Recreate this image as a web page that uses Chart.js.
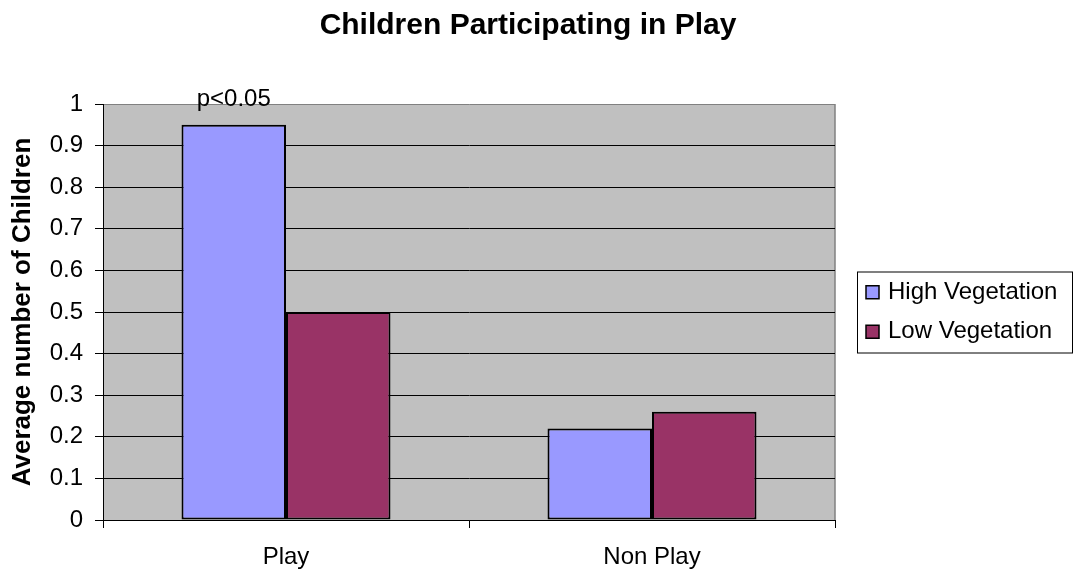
<!DOCTYPE html>
<html>
<head>
<meta charset="utf-8">
<script src="https://cdn.jsdelivr.net/npm/chart.js@4/dist/chart.umd.min.js"></script>
<style>
  html, body { margin: 0; padding: 0; background: #fff; }
  canvas { display: block; }
</style>
</head>
<body>
<canvas id="myChart" width="1074" height="572"></canvas>
<script>
var categories = ['Play', 'Non Play'];
var seriesNames = ['High Vegetation', 'Low Vegetation'];
var highVegetation = [0.95, 0.22];
var lowVegetation = [0.5, 0.26];
var highNotes = ['p<0.05', ''];
var yMin = 0;
var yMax = 1;
var yStep = 0.1;

var FONT = '"Liberation Sans", Arial, Helvetica, sans-serif';
Chart.defaults.font.family = FONT;
Chart.defaults.color = '#000';

// grey plot area, grey frame line on the right
var plotBackground = {
  id: 'plotBackground',
  beforeDraw: function(chart) {
    var a = chart.chartArea, ctx = chart.ctx;
    ctx.save();
    ctx.fillStyle = '#c0c0c0';
    ctx.fillRect(a.left, a.top, a.right - a.left, a.bottom - a.top);
    ctx.strokeStyle = '#808080';
    ctx.lineWidth = 1.5;
    ctx.beginPath();
    ctx.moveTo(a.right, a.top);
    ctx.lineTo(a.right, a.bottom);
    ctx.stroke();
    ctx.restore();
  }
};

// significance note above the bars
var barNotes = {
  id: 'barNotes',
  afterDraw: function(chart) {
    var ctx = chart.ctx;
    var meta = chart.getDatasetMeta(0);
    ctx.save();
    ctx.font = '24px ' + FONT;
    ctx.fillStyle = '#000';
    ctx.textAlign = 'center';
    ctx.textBaseline = 'alphabetic';
    for (var i = 0; i < highNotes.length; i++) {
      if (!highNotes[i]) continue;
      var bar = meta.data[i];
      ctx.fillText(highNotes[i], bar.x, bar.y - 19);
    }
    ctx.restore();
  }
};

// framed legend on the right, kept as a layout box
function drawLegend(chart, box) {
  var ctx = chart.ctx;
  var sets = chart.data.datasets;
  var cy = (box.top + box.bottom) / 2;
  var fx = box.left + 22, fw = 215, fh = 81;
  var fy = cy - fh / 2;
  ctx.save();
  ctx.fillStyle = '#fff';
  ctx.fillRect(fx, fy, fw, fh);
  ctx.strokeStyle = '#000';
  ctx.lineWidth = 1;
  ctx.strokeRect(fx + 0.5, fy + 0.5, fw, fh);
  ctx.font = '24px ' + FONT;
  ctx.textBaseline = 'middle';
  ctx.textAlign = 'left';
  for (var i = 0; i < sets.length; i++) {
    var y = cy + (i - (sets.length - 1) / 2) * 39.5;
    ctx.fillStyle = sets[i].backgroundColor;
    ctx.fillRect(fx + 9, y - 6.5, 13, 13);
    ctx.lineWidth = 1.5;
    ctx.strokeStyle = '#000';
    ctx.strokeRect(fx + 9, y - 6.5, 13, 13);
    ctx.fillStyle = '#000';
    ctx.fillText(sets[i].label, fx + 31, y);
  }
  ctx.restore();
}

var boxLegend = {
  id: 'boxLegend',
  beforeInit: function(chart) {
    var box = {
      position: 'right',
      weight: 10,
      fullSize: false,
      options: {},
      left: 0, top: 0, right: 0, bottom: 0, width: 0, height: 0,
      isHorizontal: function() { return false; },
      update: function(maxWidth, maxHeight) {
        this.width = 221;
        this.height = maxHeight;
      },
      draw: function() { drawLegend(chart, this); }
    };
    Chart.layouts.addBox(chart, box);
  }
};

new Chart(document.getElementById('myChart').getContext('2d'), {
  type: 'bar',
  data: {
    labels: categories,
    datasets: [
      {
        label: seriesNames[0],
        data: highVegetation,
        backgroundColor: '#9999ff',
        borderColor: '#000',
        borderWidth: 2,
        borderSkipped: false,
        categoryPercentage: 0.571,
        barPercentage: 1
      },
      {
        label: seriesNames[1],
        data: lowVegetation,
        backgroundColor: '#993366',
        borderColor: '#000',
        borderWidth: 2,
        borderSkipped: false,
        categoryPercentage: 0.571,
        barPercentage: 1
      }
    ]
  },
  options: {
    responsive: false,
    animation: false,
    devicePixelRatio: 1,
    layout: { padding: { top: 0, left: 0, bottom: 0, right: 18 } },
    plugins: {
      legend: { display: false },
      tooltip: { enabled: false },
      title: {
        display: true,
        text: 'Children Participating in Play',
        color: '#000',
        font: { size: 30, weight: 'bold' },
        padding: { top: 8, bottom: 60 }
      }
    },
    scales: {
      x: {
        grid: { drawOnChartArea: false, drawTicks: true, tickLength: 8, color: '#000', offset: true },
        border: { color: '#000', width: 1 },
        ticks: { font: { size: 24 }, padding: 14.5, color: '#000' },
        afterFit: function(s) { s.height = 52; }
      },
      y: {
        min: yMin,
        max: yMax,
        ticks: {
          stepSize: yStep,
          font: { size: 24 },
          padding: 12,
          color: '#000',
          callback: function(v) { return String(Math.round(v * 10) / 10); }
        },
        grid: {
          color: function(c) { return c.tick && c.tick.value === yMax ? '#808080' : '#000'; },
          tickColor: '#000',
          tickLength: 8,
          lineWidth: 1
        },
        border: { color: '#000', width: 1 },
        title: {
          display: true,
          text: 'Average number of Children',
          color: '#000',
          font: { size: 26, weight: 'bold' },
          padding: { top: 7, bottom: 0 }
        },
        afterFit: function(s) { s.width = 103; }
      }
    }
  },
  plugins: [plotBackground, boxLegend, barNotes]
});
</script>
</body>
</html>
